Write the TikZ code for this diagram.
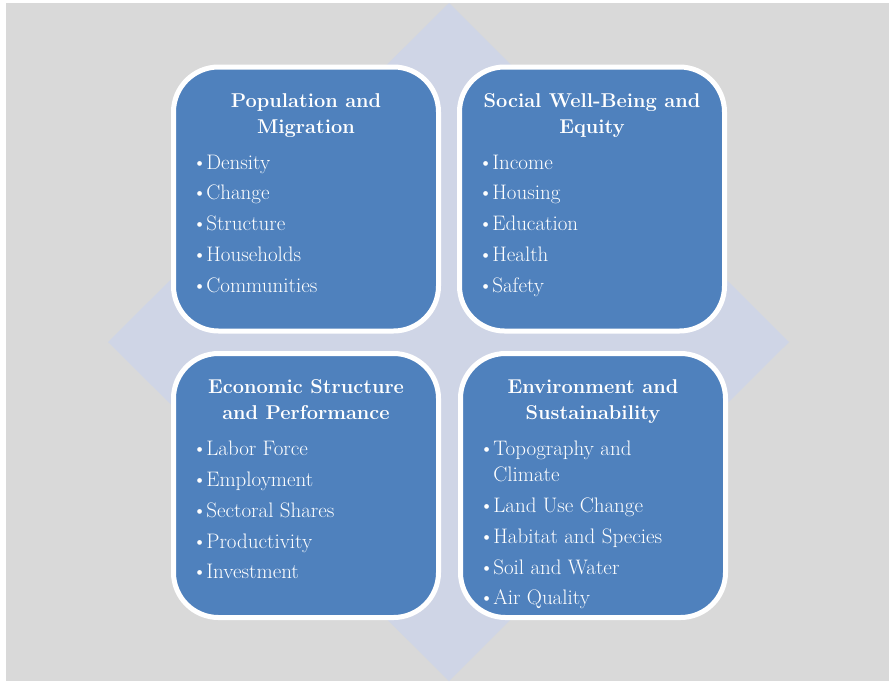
\documentclass[tikz,border=0pt]{standalone}
\usetikzlibrary{positioning}
\definecolor{bggray}{HTML}{D9D9D9}
\definecolor{diamondblue}{HTML}{CFD5E6}
\definecolor{boxblue}{HTML}{4F81BD}
\newcommand{\itm}{\textbullet\kern-1pt}
\begin{document}
\begin{tikzpicture}[x=1pt, y=-1pt,
	quadrant/.style={draw=white, line width=5pt, fill=boxblue, rounded corners=45pt,
		minimum width=265pt, minimum height=264pt},
	heading/.style={text=white, font=\fontsize{20}{26}\selectfont\bfseries, align=center, inner sep=0pt},
	items/.style={text=white, font=\fontsize{21}{26}\selectfont, align=left, inner sep=0pt}
	]
	\useasboundingbox (0,0) rectangle (889,681);
	\fill[bggray] (6,3) rectangle (889,681);
	\fill[diamondblue] (449,3) -- (789,342) -- (449,681) -- (108,342) -- cycle;
	
	% four quadrants
	\node[quadrant] (pop) at (306,199) {};
	\node[quadrant] (soc) at (592,199) {};
	\node[quadrant] (eco) at (306,485.5) {};
	\node[quadrant] (env) at (593,485.5) {};
	
	\node[heading, below=28.5pt of pop.north] (popT) {Population and\\Migration};
	\node[items, below right=90pt and 21pt of pop.north west] (popL) {%
		\itm Density\\[4.8pt]\itm Change\\[4.8pt]\itm Structure\\[4.8pt]\itm Households\\[4.8pt]\itm Communities};
	
	\node[heading, below=28.5pt of soc.north] (socT) {Social Well-Being and\\Equity};
	\node[items, below right=90pt and 21pt of soc.north west] (socL) {%
		\itm Income\\[4.8pt]\itm Housing\\[4.8pt]\itm Education\\[4.8pt]\itm Health\\[4.8pt]\itm Safety};
	
	\node[heading, below=28.5pt of eco.north] (ecoT) {Economic Structure\\and Performance};
	\node[items, below right=90pt and 21pt of eco.north west] (ecoL) {%
		\itm Labor Force\\[4.8pt]\itm Employment\\[4.8pt]\itm Sectoral Shares\\[4.8pt]\itm Productivity\\[4.8pt]\itm Investment};
	
	\node[heading, below=28.5pt of env.north] (envT) {Environment and\\Sustainability};
	\node[items, below right=90pt and 21pt of env.north west] (envL) {%
		\itm Topography and\\\phantom{\itm}Climate\\[4.8pt]\itm Land Use Change\\[4.8pt]\itm Habitat and Species\\[4.8pt]\itm Soil and Water\\[4.8pt]\itm Air Quality};
\end{tikzpicture}
\end{document}
